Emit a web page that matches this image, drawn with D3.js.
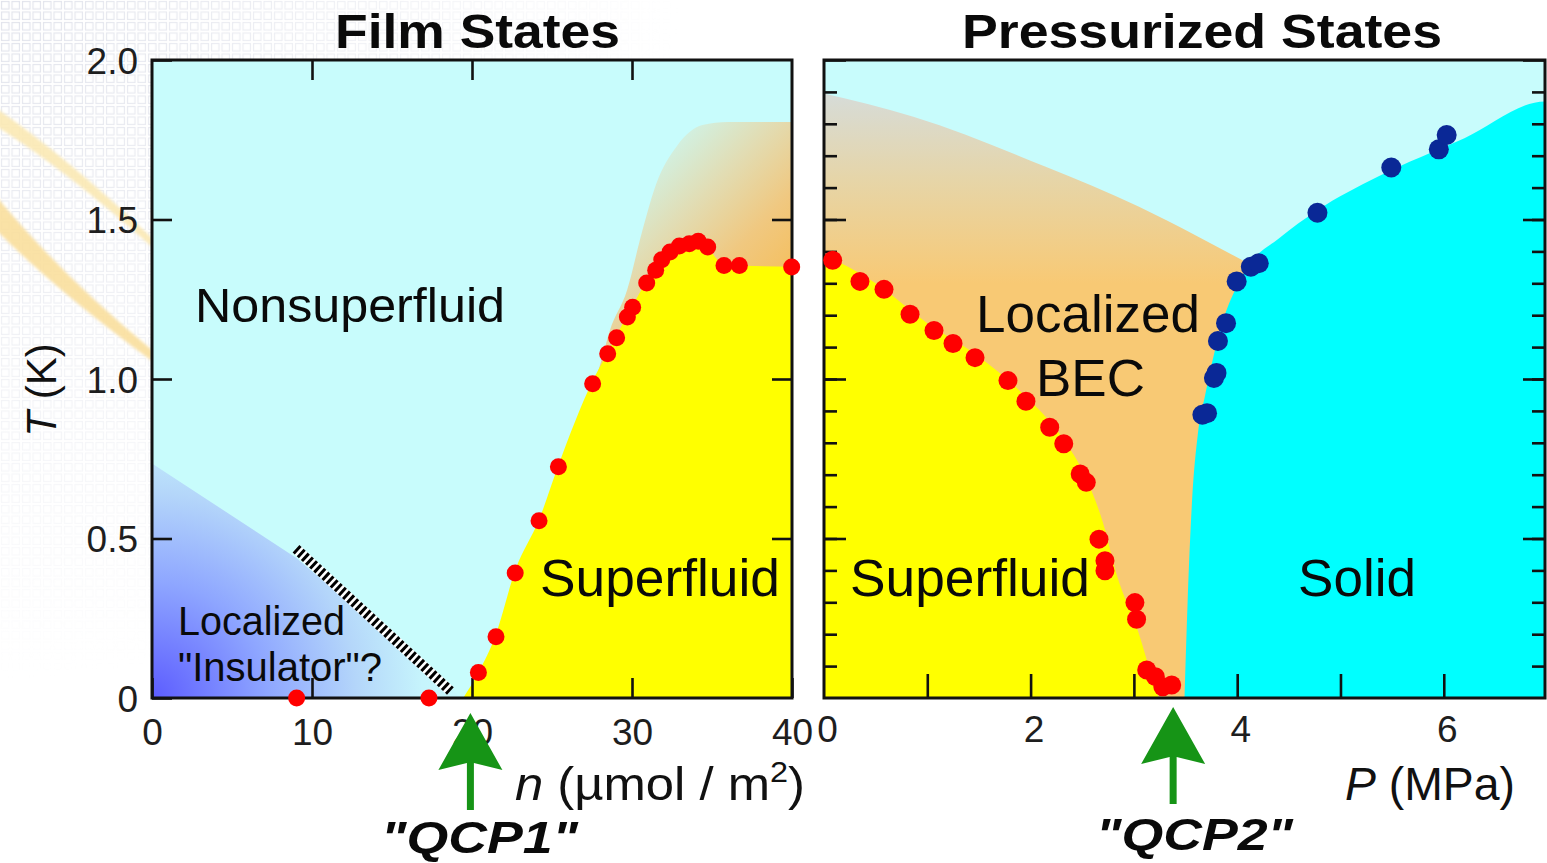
<!DOCTYPE html>
<html>
<head>
<meta charset="utf-8">
<script src="https://cdn.jsdelivr.net/npm/d3@7"></script>
<style>
  html, body { margin: 0; padding: 0; background: #ffffff; }
  svg { display: block; font-family: "Liberation Sans", Arial, Helvetica, sans-serif; }
</style>
</head>
<body>
<svg id="chart" width="1547" height="863"></svg>
<script>
// ---------------- data ----------------
// axis tick labels
const filmTicks = [0, 10, 20, 30, 40];
const pressTicks = [0, 2, 4, 6];
const tempTicks = [0, 0.5, 1.0, 1.5, 2.0];

// Film states: superfluid onset temperature vs coverage n (µmol/m²)
const filmN = [9.04, 17.31, 20.4, 21.5, 22.7, 24.19, 25.4, 27.54, 28.48, 29.04, 29.71, 30.04,
               30.92, 31.48, 31.86, 32.38, 32.96, 33.58, 34.14, 34.73, 35.75, 36.71, 39.98];
const filmT = [0, 0, 0.08, 0.192, 0.392, 0.556, 0.725, 0.985, 1.079, 1.129, 1.194, 1.225,
               1.301, 1.341, 1.374, 1.398, 1.417, 1.424, 1.432, 1.414, 1.356, 1.356, 1.351];

// Pressurized states: superfluid transition vs pressure P (MPa)
const pressP = [0.084, 0.348, 0.581, 0.833, 1.065, 1.249, 1.462, 1.781, 1.955, 2.185, 2.321,
                2.48, 2.539, 2.662, 2.72, 2.72, 3.01, 3.026, 3.124, 3.208, 3.28, 3.366];
const pressT = [1.372, 1.306, 1.281, 1.203, 1.152, 1.111, 1.067, 0.995, 0.93, 0.849, 0.797,
                0.702, 0.676, 0.498, 0.43, 0.399, 0.299, 0.247, 0.088, 0.067, 0.035, 0.041];

// Pressurized states: freezing (solid) line
const solidP = [3.663, 3.708, 3.775, 3.8, 3.814, 3.892, 3.995, 4.132, 4.209, 4.777, 5.492, 5.952, 6.028];
const solidT = [0.888, 0.893, 1.003, 1.019, 1.119, 1.175, 1.306, 1.352, 1.363, 1.521, 1.663, 1.72, 1.765];

// phase boundaries [x, T]
const filmSuperEdge = [[19.45, 0], [20.4, 0.08], [21.5, 0.2], [22.7, 0.4], [24.2, 0.56], [25.4, 0.73],
                       [27.5, 0.99], [28.5, 1.085], [29.7, 1.2], [30.9, 1.305], [31.9, 1.378], [33.0, 1.42],
                       [34.1, 1.433], [34.7, 1.412], [35.7, 1.36], [37.0, 1.355], [40, 1.352]];
const filmFuzzyEdge = [[27.2, 0.92], [28.1, 1.06], [28.6, 1.15], [29.7, 1.28], [30.6, 1.456], [31.5, 1.61],
                       [32.8, 1.73], [34.4, 1.796], [36.0, 1.806], [40, 1.806]];
const filmInsulator = [[0, 0], [0, 0.735], [9.0, 0.44], [19.35, 0]];
const filmDashed = [[9.0, 0.468], [18.65, 0.022]];

const pressSuperEdge = [[0, 1.39], [0.5, 1.3], [1.0, 1.175], [1.5, 1.07], [2.0, 0.93], [2.3, 0.82],
                        [2.55, 0.68], [2.7, 0.55], [2.83, 0.39], [3.05, 0.2], [3.17, 0.07], [3.24, 0]];
const pressBecTop = [[0, 1.895], [0.865, 1.822], [2.14, 1.666], [3.05, 1.54], [3.6, 1.45], [4.12, 1.36]];
const pressSolidEdge = [[3.49, 0], [3.52, 0.3], [3.56, 0.6], [3.62, 0.83], [3.69, 0.95], [3.77, 1.07],
                        [3.86, 1.18], [3.98, 1.28], [4.12, 1.36], [4.4, 1.44], [4.78, 1.53], [5.36, 1.634],
                        [6.2, 1.755], [6.98, 1.87]];

// quantum critical points marked below the axes
const qcpFilm = 19.9;
const qcpPress = 3.38;

// ---------------- scales ----------------
const svg = d3.select("#chart");
const xL = d3.scaleLinear().domain([0, 40]).range([152, 792]);
const xR = d3.scaleLinear().domain([0, 6.98]).range([824, 1545]);
const y = d3.scaleLinear().domain([0, 2]).range([698, 60]);

const defs = svg.append("defs");

// faint slide-template grid in the top-left corner
const pat = defs.append("pattern").attr("id", "bgGrid").attr("patternUnits", "userSpaceOnUse")
  .attr("width", 10.5).attr("height", 10.5);
pat.append("rect").attr("x", 1.5).attr("y", 1.5).attr("width", 7.5).attr("height", 7.5)
  .attr("fill", "none").attr("stroke", "#e1e3eb").attr("stroke-width", 1.2);
const fade = defs.append("radialGradient").attr("id", "gridFade").attr("gradientUnits", "userSpaceOnUse")
  .attr("cx", 0).attr("cy", 0).attr("r", 680);
fade.append("stop").attr("offset", 0).attr("stop-color", "#fff").attr("stop-opacity", 1);
fade.append("stop").attr("offset", 0.55).attr("stop-color", "#fff").attr("stop-opacity", 0.45);
fade.append("stop").attr("offset", 1).attr("stop-color", "#fff").attr("stop-opacity", 0);
defs.append("mask").attr("id", "gridMask").append("rect")
  .attr("width", 1547).attr("height", 863).attr("fill", "url(#gridFade)");
svg.append("rect").attr("x", 0).attr("y", 0).attr("width", 800).attr("height", 700)
  .attr("fill", "url(#bgGrid)").attr("mask", "url(#gridMask)");

// soft golden swooshes of the slide background
defs.append("filter").attr("id", "soft").append("feGaussianBlur").attr("stdDeviation", 1.4);
const swoosh = svg.append("g").attr("filter", "url(#soft)");
swoosh.append("path").attr("d", "M-4,108 Q68,158 152,238 L152,247 Q66,170 -4,126 Z")
  .attr("fill", "#fbe9b4").attr("opacity", 0.9);
swoosh.append("path").attr("d", "M-4,196 Q62,276 152,350 L152,361 Q58,292 -4,230 Z")
  .attr("fill", "#f9df9c").attr("opacity", 0.9);

// white strip behind the right-hand title
svg.append("rect").attr("x", 816).attr("y", 0).attr("width", 731).attr("height", 56).attr("fill", "#fff");

// ---------------- gradients ----------------
const insGrad = defs.append("radialGradient").attr("id", "insGrad").attr("gradientUnits", "userSpaceOnUse")
  .attr("cx", xL(0)).attr("cy", y(0)).attr("r", 330);
[[0, "#5c5cff"], [0.35, "#8ea6ff"], [0.62, "#b4d6fa"], [0.82, "#c6f4fc"], [1, "#c8fcfc"]].forEach(([o, c]) =>
  insGrad.append("stop").attr("offset", o).attr("stop-color", c));

const fuzzGrad = defs.append("linearGradient").attr("id", "fuzzGrad").attr("gradientUnits", "userSpaceOnUse")
  .attr("x1", xL(40)).attr("y1", y(1.36)).attr("x2", xL(31)).attr("y2", y(1.8));
[[0, "#f4c062"], [0.25, "#f0c880"], [0.55, "#e2dcb2"], [1, "#c8fcfc"]].forEach(([o, c]) =>
  fuzzGrad.append("stop").attr("offset", o).attr("stop-color", c));

const becGrad = defs.append("linearGradient").attr("id", "becGrad").attr("gradientUnits", "userSpaceOnUse")
  .attr("x1", 0).attr("y1", y(1.95)).attr("x2", 0).attr("y2", y(1.3));
[[0, "#d3dde2"], [0.5, "#e6d5a8"], [1, "#f8c974"]].forEach(([o, c]) =>
  becGrad.append("stop").attr("offset", o).attr("stop-color", c));

// ---------------- panel backgrounds ----------------
const panelL = svg.append("g");
const panelR = svg.append("g");
defs.append("clipPath").attr("id", "clipL").append("rect")
  .attr("x", xL(0)).attr("y", y(2)).attr("width", xL(40) - xL(0)).attr("height", y(0) - y(2));
defs.append("clipPath").attr("id", "clipR").append("rect")
  .attr("x", xR(0)).attr("y", y(2)).attr("width", xR(6.98) - xR(0)).attr("height", y(0) - y(2));

const fillsL = panelL.append("g").attr("clip-path", "url(#clipL)");
const fillsR = panelR.append("g").attr("clip-path", "url(#clipR)");

fillsL.append("rect").attr("x", xL(0)).attr("y", y(2)).attr("width", xL(40) - xL(0))
  .attr("height", y(0) - y(2)).attr("fill", "#c8fcfc");
fillsR.append("rect").attr("x", xR(0)).attr("y", y(2)).attr("width", xR(6.98) - xR(0))
  .attr("height", y(0) - y(2)).attr("fill", "#c8fcfc");

const areaL = d3.area().x(d => xL(d[0])).y0(y(0)).y1(d => y(d[1])).curve(d3.curveMonotoneX);
const areaR = d3.area().x(d => xR(d[0])).y0(y(0)).y1(d => y(d[1])).curve(d3.curveMonotoneX);

// localized "insulator" wedge
fillsL.append("path")
  .attr("d", d3.line().x(d => xL(d[0])).y(d => y(d[1]))(filmInsulator) + "Z")
  .attr("fill", "url(#insGrad)");

// crossover region above the film superfluid
fillsL.append("path").attr("d", areaL(filmFuzzyEdge)).attr("fill", "url(#fuzzGrad)");
// film superfluid
fillsL.append("path").attr("d", areaL(filmSuperEdge)).attr("fill", "#ffff00");

// localized BEC region (pressurized)
fillsR.append("path").attr("d", areaR(pressBecTop)).attr("fill", "url(#becGrad)");
// pressurized superfluid
fillsR.append("path").attr("d", areaR(pressSuperEdge)).attr("fill", "#ffff00");
// solid
fillsR.append("path").attr("d", areaR(pressSolidEdge.concat([[6.98, 0]]))).attr("fill", "#00ffff");

// hatched boundary of the insulating region
const dash = d3.line().x(d => xL(d[0])).y(d => y(d[1]));
panelL.append("path").attr("d", dash(filmDashed)).attr("stroke", "#ffffff")
  .attr("stroke-width", 10).attr("fill", "none");
panelL.append("path").attr("d", dash(filmDashed)).attr("stroke", "#000000")
  .attr("stroke-width", 10).attr("stroke-dasharray", "3,2.6").attr("fill", "none");

// ---------------- phase labels ----------------
const label = (g, x, yy, txt, size, len) => g.append("text").attr("x", x).attr("y", yy)
  .attr("font-size", size).attr("fill", "#0a0a0a")
  .attr("textLength", len).attr("lengthAdjust", "spacingAndGlyphs").text(txt);
label(panelL, 195, 322, "Nonsuperfluid", 48, 310);
label(panelL, 540, 596, "Superfluid", 51, 240);
label(panelL, 178, 635, "Localized", 40, 167);
label(panelL, 178, 681, "\"Insulator\"?", 40, 204);
label(panelR, 850, 596, "Superfluid", 51, 240);
label(panelR, 1298, 596, "Solid", 51, 118);
label(panelR, 976, 332, "Localized", 51, 224);
label(panelR, 1036, 396, "BEC", 51, 109);

// ---------------- axes ----------------
const tickFont = g => g.selectAll("text").attr("font-size", 37).attr("fill", "#1e1e1e")
  .attr("font-family", "'Liberation Sans', Arial, sans-serif");
const tickStroke = g => { g.select(".domain").remove(); g.selectAll("line").attr("stroke", "#111").attr("stroke-width", 2.6); };
const fmtT = d => d === 0 ? "0" : d.toFixed(1);

// film panel
panelL.append("g").attr("transform", `translate(0,${y(0)})`)
  .call(d3.axisBottom(xL).tickValues(filmTicks).tickSize(-20).tickPadding(21).tickFormat(d3.format("d")))
  .call(tickStroke).call(tickFont);
panelL.append("g").attr("transform", `translate(0,${y(2)})`)
  .call(d3.axisTop(xL).tickValues([10, 20, 30]).tickSize(-20).tickFormat(""))
  .call(tickStroke);
panelL.append("g").attr("transform", `translate(${xL(0)},0)`)
  .call(d3.axisLeft(y).tickValues(tempTicks).tickSize(-20).tickPadding(14).tickFormat(fmtT))
  .call(tickStroke).call(tickFont)
  .call(g => g.selectAll("text").attr("dy", "0.36em"));
panelL.append("g").attr("transform", `translate(${xL(40)},0)`)
  .call(d3.axisRight(y).tickValues([0.5, 1.0, 1.5]).tickSize(-20).tickFormat(""))
  .call(tickStroke);
panelL.append("rect").attr("x", xL(0)).attr("y", y(2)).attr("width", xL(40) - xL(0))
  .attr("height", y(0) - y(2)).attr("fill", "none").attr("stroke", "#111").attr("stroke-width", 3);

// pressure panel
const minorT = d3.range(1, 20).map(i => i / 10);
const majorT = [0.5, 1.0, 1.5, 2.0];
panelR.append("g").attr("transform", `translate(0,${y(0)})`)
  .call(d3.axisBottom(xR).tickValues([1, 2, 3, 4, 5, 6]).tickSize(-24).tickFormat(""))
  .call(tickStroke);
panelR.append("g").attr("transform", `translate(3,${y(0)})`)
  .call(d3.axisBottom(xR).tickValues(pressTicks).tickSize(0).tickPadding(18).tickFormat(d3.format("d")))
  .call(tickStroke).call(tickFont);
[[xR(0), d3.axisLeft], [xR(6.98), d3.axisRight]].forEach(([xx, ax]) => {
  panelR.append("g").attr("transform", `translate(${xx},0)`)
    .call(ax(y).tickValues(minorT).tickSize(-13).tickFormat("")).call(tickStroke);
  panelR.append("g").attr("transform", `translate(${xx},0)`)
    .call(ax(y).tickValues(majorT).tickSize(-22).tickFormat("")).call(tickStroke);
});
panelR.append("rect").attr("x", xR(0)).attr("y", y(2)).attr("width", xR(6.98) - xR(0))
  .attr("height", y(0) - y(2)).attr("fill", "none").attr("stroke", "#111").attr("stroke-width", 3);

// ---------------- data points ----------------
panelL.append("g").selectAll("circle").data(filmN.map((n, i) => [n, filmT[i]])).join("circle")
  .attr("cx", d => xL(d[0])).attr("cy", d => y(d[1])).attr("r", 8.5).attr("fill", "#ff0000");
panelR.append("g").selectAll("circle").data(pressP.map((p, i) => [p, pressT[i]])).join("circle")
  .attr("cx", d => xR(d[0])).attr("cy", d => y(d[1])).attr("r", 9.5).attr("fill", "#ff0000");
panelR.append("g").selectAll("circle").data(solidP.map((p, i) => [p, solidT[i]])).join("circle")
  .attr("cx", d => xR(d[0])).attr("cy", d => y(d[1])).attr("r", 10).attr("fill", "#0a2896");

// ---------------- titles and axis names ----------------
svg.append("text").attr("x", 335).attr("y", 48)
  .attr("font-size", 49).attr("font-weight", "bold").attr("fill", "#0a0a0a")
  .attr("textLength", 285).attr("lengthAdjust", "spacingAndGlyphs").text("Film States");
svg.append("text").attr("x", 962).attr("y", 48)
  .attr("font-size", 49).attr("font-weight", "bold").attr("fill", "#0a0a0a")
  .attr("textLength", 480).attr("lengthAdjust", "spacingAndGlyphs").text("Pressurized States");

const tLab = svg.append("text").attr("transform", "translate(56,390) rotate(-90)")
  .attr("text-anchor", "middle").attr("font-size", 42).attr("fill", "#111");
tLab.append("tspan").attr("font-style", "italic").text("T");
tLab.append("tspan").text(" (K)");

const nLab = svg.append("text").attr("x", 515).attr("y", 800).attr("font-size", 47).attr("fill", "#111")
  .attr("textLength", 290).attr("lengthAdjust", "spacingAndGlyphs");
nLab.append("tspan").attr("font-style", "italic").text("n");
nLab.append("tspan").text(" (\u00b5mol / m");
nLab.append("tspan").attr("font-size", 30).attr("dy", -18).text("2");
nLab.append("tspan").attr("dy", 18).text(")");

const pLab = svg.append("text").attr("x", 1345).attr("y", 800).attr("font-size", 46).attr("fill", "#111")
  .attr("textLength", 170).attr("lengthAdjust", "spacingAndGlyphs");
pLab.append("tspan").attr("font-style", "italic").text("P");
pLab.append("tspan").text(" (MPa)");

// ---------------- QCP arrows ----------------
const arrow = (cx, tip) => `M${cx},${tip} L${cx + 32},${tip + 57} L${cx + 3.5},${tip + 50} ` +
  `L${cx + 3.5},${tip + 97} L${cx - 3.5},${tip + 97} L${cx - 3.5},${tip + 50} L${cx - 32},${tip + 57} Z`;
svg.append("path").attr("d", arrow(xL(qcpFilm), 713)).attr("fill", "#169416");
svg.append("path").attr("d", arrow(xR(qcpPress), 707)).attr("fill", "#169416");

svg.append("text").attr("x", 381).attr("y", 853)
  .attr("font-size", 45).attr("font-weight", "bold").attr("font-style", "italic")
  .attr("textLength", 197).attr("lengthAdjust", "spacingAndGlyphs")
  .attr("fill", "#0a0a0a").text("\"QCP1\"");
svg.append("text").attr("x", 1096).attr("y", 850)
  .attr("font-size", 45).attr("font-weight", "bold").attr("font-style", "italic")
  .attr("textLength", 197).attr("lengthAdjust", "spacingAndGlyphs")
  .attr("fill", "#0a0a0a").text("\"QCP2\"");
</script>
</body>
</html>
